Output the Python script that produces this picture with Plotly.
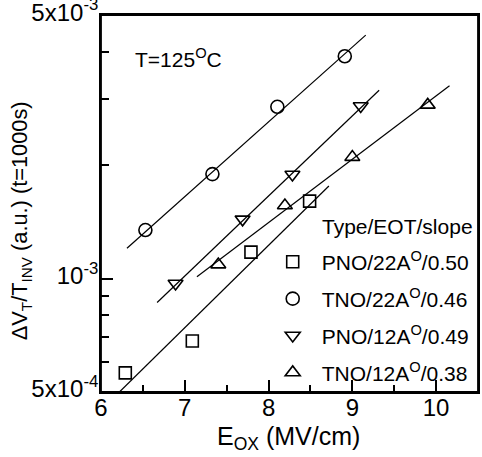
import math
import plotly.graph_objects as go

# ---- data ----
pno22_x = [6.29, 7.09, 7.79, 8.49]
pno22_y = [5.62e-4, 6.83e-4, 1.175e-3, 1.605e-3]
tno22_x = [6.53, 7.33, 8.105, 8.91]
tno22_y = [1.345e-3, 1.893e-3, 2.856e-3, 3.89e-3]
pno12_x = [6.89, 7.69, 8.285, 9.10]
pno12_y = [9.70e-4, 1.436e-3, 1.888e-3, 2.87e-3]
tno12_x = [7.40, 8.195, 9.00, 9.90]
tno12_y = [1.089e-3, 1.562e-3, 2.10e-3, 2.889e-3]

# fitted lines (end points)
pno22_fit_x = [6.22, 8.72]
pno22_fit_y = [5.0e-4, 1.76e-3]
tno22_fit_x = [6.31, 9.16]
tno22_fit_y = [1.203e-3, 4.425e-3]
pno12_fit_x = [6.67, 9.32]
pno12_fit_y = [8.64e-4, 3.16e-3]
tno12_fit_x = [7.145, 10.16]
tno12_fit_y = [1.011e-3, 3.247e-3]

series_names = ["PNO/22A<sup>O</sup>/0.50", "TNO/22A<sup>O</sup>/0.46",
                "PNO/12A<sup>O</sup>/0.49", "TNO/12A<sup>O</sup>/0.38"]
y_tickvals = [5e-4, 1e-3, 5e-3]
y_ticktext = ["5x10<sup>-4</sup>", "10<sup>-3</sup>", "5x10<sup>-3</sup>"]
y_minor_vals = [6e-4, 7e-4, 8e-4, 9e-4, 2e-3, 3e-3, 4e-3]
x_tickvals = [6, 7, 8, 9, 10]

FONT = "Liberation Sans, Arial, sans-serif"

fig = go.Figure()

fits = [(pno22_fit_x, pno22_fit_y), (tno22_fit_x, tno22_fit_y),
        (pno12_fit_x, pno12_fit_y), (tno12_fit_x, tno12_fit_y)]
for fx, fy in fits:
    fig.add_trace(go.Scatter(x=fx, y=fy, mode="lines",
                             line=dict(color="black", width=1.2),
                             showlegend=False, hoverinfo="skip"))

pts = [(pno22_x, pno22_y, "square-open", 12),
       (tno22_x, tno22_y, "circle-open", 13),
       (pno12_x, pno12_y, "triangle-down-open", 13),
       (tno12_x, tno12_y, "triangle-up-open", 13)]
for i, (px, py, sym, sz) in enumerate(pts):
    fig.add_trace(go.Scatter(x=px, y=py, mode="markers", name=series_names[i],
                             legendgroup=f"g{i}",
                             marker=dict(symbol=sym, size=sz, color="black",
                                         line=dict(color="black", width=1.6))))

fig.update_xaxes(range=[6, 10.5], tickvals=x_tickvals, ticks="inside", ticklen=12,
                 tickwidth=1.5, tickcolor="black", ticklabelstandoff=-7,
                 ticklabeloverflow="allow", automargin=False,
                 minor=dict(dtick=0.5, tick0=6, ticks="inside", ticklen=7,
                            tickwidth=1.5, tickcolor="black"),
                 showline=True, linewidth=1.8, linecolor="black", mirror=True,
                 showgrid=False, zeroline=False,
                 tickfont=dict(family=FONT, size=24, color="black"))
fig.update_yaxes(type="log", range=[math.log10(5e-4), math.log10(5e-3) + 0.0004],
                 tickvals=y_tickvals, ticktext=y_ticktext, ticks="inside", ticklen=12,
                 tickwidth=1.5, tickcolor="black", ticklabelstandoff=-4,
                 ticklabelshift=-3,
                 ticklabeloverflow="allow", automargin=False,
                 minor=dict(tickvals=y_minor_vals, ticks="inside", ticklen=8,
                            tickwidth=1.5, tickcolor="black"),
                 showline=True, linewidth=1.8, linecolor="black", mirror=True,
                 showgrid=False, zeroline=False,
                 tickfont=dict(family=FONT, size=24, color="black"))

# frame around the plotting area
fig.add_shape(type="rect", xref="paper", yref="paper", x0=0, y0=0, x1=1, y1=1,
              line=dict(color="black", width=1.8), layer="above")

fig.add_annotation(text="E<sub>OX</sub> (MV/cm)", xref="paper", yref="paper",
                   x=0.497, y=-0.075, xanchor="center", yanchor="top", showarrow=False,
                   font=dict(family=FONT, size=25, color="black"))
fig.add_annotation(text="ΔV<sub>T</sub>/T<sub>INV</sub> (a.u.) (t=1000s)", xref="paper", yref="paper",
                   x=-0.21, y=0.455, xanchor="center", yanchor="middle", textangle=-90,
                   showarrow=False, font=dict(family=FONT, size=21.8, color="black"))
fig.add_annotation(text="T=125<sup>O</sup>C", xref="paper", yref="paper",
                   x=0.086, y=0.885, xanchor="left", yanchor="middle", showarrow=False,
                   font=dict(family=FONT, size=21, color="black"))
fig.add_annotation(text="Type/EOT/slope", xref="paper", yref="paper",
                   x=0.582, y=0.4377, xanchor="left", yanchor="middle", showarrow=False,
                   font=dict(family=FONT, size=21, color="black"))

fig.update_layout(
    width=482, height=457,
    margin=dict(l=101, r=4, t=15, b=65),
    paper_bgcolor="white", plot_bgcolor="white",
    font=dict(family=FONT, size=21, color="black"),
    legend=dict(x=0.4316, y=0.399, xanchor="left", yanchor="top",
                bgcolor="rgba(0,0,0,0)", itemwidth=48, tracegroupgap=6.6,
                font=dict(family=FONT, size=21, color="black")),
)

fig.write_html("out.html", config={"displayModeBar": False},
               post_script="document.body.style.margin='0px';document.body.style.overflow='hidden';")
